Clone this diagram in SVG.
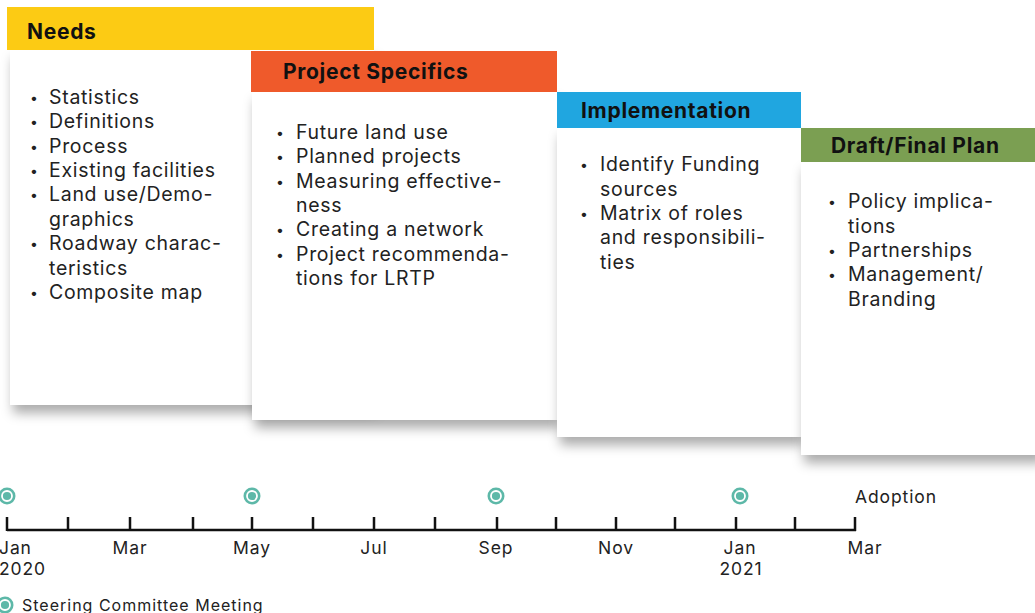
<svg xmlns="http://www.w3.org/2000/svg" width="1035" height="613" viewBox="0 0 1035 613">
<defs>
<filter id="sh" x="-10%" y="-10%" width="130%" height="130%">
<feDropShadow dx="3" dy="8" stdDeviation="6" flood-color="#000" flood-opacity="0.33"/>
</filter>
<g id="mtg">
<circle r="8.5" fill="#5DB8A8"/>
<circle r="5" fill="none" stroke="#fff" stroke-width="1.8"/>
</g>
</defs>
<style>
.hd{font-family:Inter,"Noto Sans",sans-serif;font-weight:700;font-size:21px;letter-spacing:0.7px;fill:#111}
.tx{font-family:Inter,"Noto Sans",sans-serif;font-size:19.5px;letter-spacing:0.7px;fill:#222}
.bl{font-family:Inter,"Noto Sans",sans-serif;font-size:14px;fill:#222}
.lb{font-family:Inter,"Noto Sans",sans-serif;font-size:17.5px;letter-spacing:0.9px;fill:#222}
.lg{font-family:Inter,"Noto Sans",sans-serif;font-size:16px;letter-spacing:1px;fill:#222}
.body{fill:#fff}
</style>
<rect width="1035" height="613" fill="#fff"/>

<g id="needs">
<rect x="10" y="50" width="364" height="355" class="body" filter="url(#sh)"/>
<rect x="7" y="7" width="367" height="43" fill="#FCCB14"/>
<text x="27" y="39" class="hd">Needs</text>
<g class="tx">
<text x="30" y="103" class="bl">•</text><text x="49" y="104">Statistics</text>
<text x="30" y="127" class="bl">•</text><text x="49" y="128">Definitions</text>
<text x="30" y="152" class="bl">•</text><text x="49" y="153">Process</text>
<text x="30" y="176" class="bl">•</text><text x="49" y="177">Existing facilities</text>
<text x="30" y="200" class="bl">•</text><text x="49" y="201">Land use/Demo-</text>
<text x="49" y="226">graphics</text>
<text x="30" y="249" class="bl">•</text><text x="49" y="250">Roadway charac-</text>
<text x="49" y="275">teristics</text>
<text x="30" y="298" class="bl">•</text><text x="49" y="299">Composite map</text>
</g>
</g>

<g id="project-specifics">
<rect x="252" y="92" width="305" height="328" class="body" filter="url(#sh)"/>
<rect x="251" y="51" width="306" height="41" fill="#EF5A2B"/>
<text x="283" y="79" class="hd">Project Specifics</text>
<g class="tx">
<text x="276" y="138" class="bl">•</text><text x="296" y="139">Future land use</text>
<text x="276" y="162" class="bl">•</text><text x="296" y="163">Planned projects</text>
<text x="276" y="187" class="bl">•</text><text x="296" y="188">Measuring effective-</text>
<text x="296" y="212">ness</text>
<text x="276" y="235" class="bl">•</text><text x="296" y="236">Creating a network</text>
<text x="276" y="260" class="bl">•</text><text x="296" y="261">Project recommenda-</text>
<text x="296" y="285">tions for LRTP</text>
</g>
</g>

<g id="implementation">
<rect x="557" y="128" width="244" height="309" class="body" filter="url(#sh)"/>
<rect x="557" y="92" width="244" height="36" fill="#20A6E0"/>
<text x="581" y="118" class="hd">Implementation</text>
<g class="tx">
<text x="580" y="170" class="bl">•</text><text x="600" y="171">Identify Funding</text>
<text x="600" y="196">sources</text>
<text x="580" y="219" class="bl">•</text><text x="600" y="220">Matrix of roles</text>
<text x="600" y="244">and responsibili-</text>
<text x="600" y="269">ties</text>
</g>
</g>

<g id="draft-final-plan">
<rect x="801" y="162" width="240" height="293" class="body" filter="url(#sh)"/>
<rect x="801" y="128" width="234" height="34" fill="#7B9F52"/>
<text x="831" y="153" class="hd">Draft/Final Plan</text>
<g class="tx">
<text x="828" y="207" class="bl">•</text><text x="848" y="208">Policy implica-</text>
<text x="848" y="233">tions</text>
<text x="828" y="256" class="bl">•</text><text x="848" y="257">Partnerships</text>
<text x="828" y="280" class="bl">•</text><text x="848" y="281">Management/</text>
<text x="848" y="306">Branding</text>
</g>
</g>

<g id="timeline" stroke="#111" stroke-width="2.5" fill="none">
<line x1="7" y1="530" x2="856" y2="530"/>
<path d="M7 517V531M68 517V530M130 517V530M193 517V530M252 517V530M313 517V530M374 517V530M435 517V530M497 517V530M556 517V530M616 517V530M675 517V530M736 517V530M795 517V530M855 517V531"/>
</g>

<g id="meetings">
<use href="#mtg" x="7" y="496"/>
<use href="#mtg" x="252" y="496"/>
<use href="#mtg" x="496" y="496"/>
<use href="#mtg" x="740" y="496"/>
</g>

<g id="labels" class="lb">
<text x="-1" y="554">Jan</text>
<text x="-1" y="575">2020</text>
<text x="130" y="554" text-anchor="middle">Mar</text>
<text x="252" y="554" text-anchor="middle">May</text>
<text x="374" y="554" text-anchor="middle">Jul</text>
<text x="496" y="554" text-anchor="middle">Sep</text>
<text x="616" y="554" text-anchor="middle">Nov</text>
<text x="740" y="554" text-anchor="middle">Jan</text>
<text x="741" y="575" text-anchor="middle">2021</text>
<text x="865" y="554" text-anchor="middle">Mar</text>
<text x="855" y="503">Adoption</text>
</g>

<g id="legend">
<use href="#mtg" x="5" y="605"/>
<text x="22" y="611" class="lg">Steering Committee Meeting</text>
</g>
</svg>
